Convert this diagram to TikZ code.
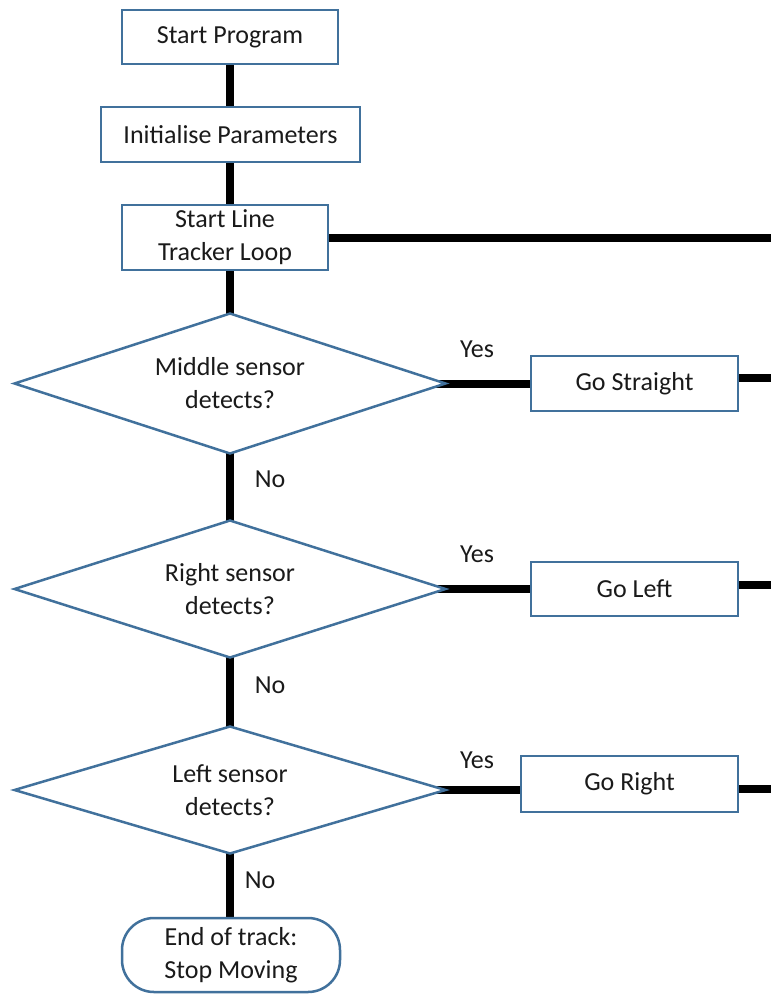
\documentclass[tikz,border=0pt]{standalone}
\usepackage{fontspec}
\setmainfont{Carlito}
\usetikzlibrary{shapes.geometric}
\definecolor{bordc}{HTML}{41719C}
\definecolor{txtc}{HTML}{1A1A1A}
\tikzset{
  box/.style={draw=bordc, line width=2.5pt, fill=white, inner sep=0pt, align=center,
    text=txtc, font=\fontsize{26}{33}\selectfont},
  dia/.style={diamond, aspect=3.06, draw=bordc, line width=2.5pt, fill=white, inner sep=0pt, align=center,
    text=txtc, minimum width=432pt, font=\fontsize{26}{33}\selectfont},
  lbl/.style={inner sep=0pt, text=txtc, font=\fontsize{26}{33}\selectfont},
  conn/.style={line width=8pt, black}
}
\begin{document}
\begin{tikzpicture}[x=1pt,y=-1pt]
\useasboundingbox (0,0) rectangle (771,994);
% right-edge coordinates
\coordinate (e0) at (771,237);
\coordinate (e1) at (771,378);
\coordinate (e2) at (771,585);
\coordinate (e3) at (771,789);
\coordinate (vx) at (230,0);
% node centres (nodes drawn after connectors)
\coordinate (cstart) at (230,37);
\coordinate (cinit) at (230.5,134.5);
\coordinate (cloop) at (225,237.5);
\coordinate (cd1) at (230,383.5);
\coordinate (cd2) at (230,589);
\coordinate (cd3) at (230,790);
\coordinate (cgs) at (634.5,383.5);
\coordinate (cgl) at (634.5,589);
\coordinate (cgr) at (629.5,784);
\coordinate (cend) at (231,955);
% connectors
\draw[conn] (cstart -| vx) -- (cinit -| vx);
\draw[conn] (cinit -| vx) -- (cd1 -| vx);
\draw[conn] (cloop -| vx) -- (cloop -| e0);
\draw[conn] (cd1) -- (cd2);
\draw[conn] (cd2) -- (cd3);
\draw[conn] (cd3) -- (cend -| cd3);
\draw[conn] (cd1) -- (cgs |- cd1);
\draw[conn] (cd2) -- (cgl |- cd2);
\draw[conn] (cd3) -- (cgr |- cd3);
\draw[conn] (cgs |- e1) -- (e1);
\draw[conn] (cgl |- e2) -- (e2);
\draw[conn] (cgr |- e3) -- (e3);
% nodes
\node[box, minimum width=216pt, minimum height=54pt] (start) at (cstart) {Start Program};
\node[box, minimum width=259pt, minimum height=55pt] (init) at (cinit) {Initialise Parameters};
\node[box, minimum width=206pt, minimum height=65pt] (loop) at (cloop) {Start Line\\Tracker Loop};
\node[dia, minimum height=141pt] (d1) at (cd1) {Middle sensor\\detects?};
\node[dia, minimum height=138pt] (d2) at (cd2) {Right sensor\\detects?};
\node[dia, minimum height=128pt] (d3) at (cd3) {Left sensor\\detects?};
\node[box, minimum width=207pt, minimum height=55pt] (gs) at (cgs) {Go Straight};
\node[box, minimum width=207pt, minimum height=54pt] (gl) at (cgl) {Go Left};
\node[box, minimum width=217pt, minimum height=56pt] (gr) at (cgr) {Go Right};
\node[box, rounded corners=32pt, minimum width=218pt, minimum height=74pt] (endn) at (cend) {End of track:\\Stop Moving};
% labels
\node[lbl] (y1) at (477,349) {Yes};
\node[lbl] (y2) at (477,554) {Yes};
\node[lbl] (y3) at (477,760) {Yes};
\node[lbl] (n1) at (270,479) {No};
\node[lbl] (n2) at (270,685) {No};
\node[lbl] (n3) at (260,880) {No};
\end{tikzpicture}
\end{document}
